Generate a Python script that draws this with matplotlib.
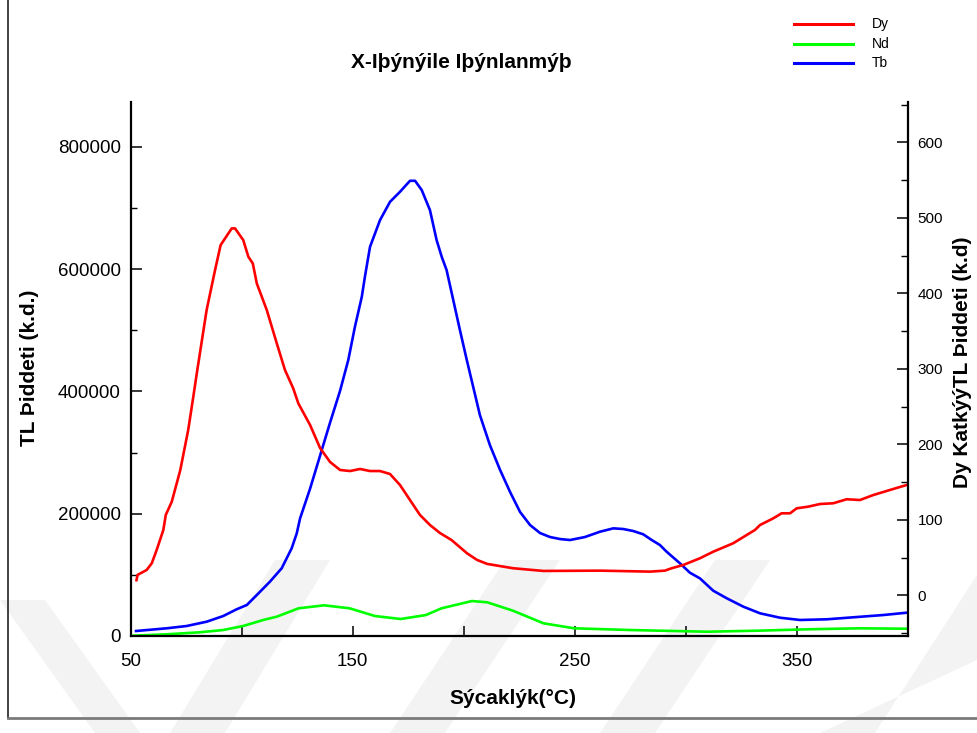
import matplotlib
matplotlib.use("Agg")
import matplotlib.pyplot as plt
from matplotlib.ticker import MultipleLocator, FixedLocator
from matplotlib.lines import Line2D
from matplotlib.patches import Polygon

plt.rcParams['font.family'] = ['Liberation Sans', 'DejaVu Sans']

# -------------------------
# Data
# -------------------------
# Dy : right axis
dy_temp = [52.6, 53.1, 57.2, 59.5, 61.7, 64.7, 65.8, 68.5, 72.3, 75.9, 78.2, 80.0,
           84.2, 88.0, 90.5, 95.5, 97.0, 100.7, 103.0, 105.0, 106.8, 111.3, 115.8,
           119.5, 123.2, 125.5, 130.8, 135.3, 139.8, 144.3, 148.8, 153.3, 157.8,
           162.3, 166.8, 171.3, 175.8, 180.3, 184.8, 189.3, 194.5, 201.5, 206.0,
           210.6, 222.2, 235.9, 261.4, 283.9, 290.6, 293.7, 298.9, 306.4, 312.4,
           321.4, 327.5, 331.2, 333.5, 339.5, 343.2, 347.0, 350.0, 355.2, 360.5,
           366.5, 372.5, 378.5, 384.5, 392.0, 399.5]
dy_int = [20, 27, 33.5, 42.4, 60.0, 86.5, 106.4, 124.0, 165.4, 218.9, 263.0, 298.4,
          377.9, 430.9, 464.0, 486.1, 486.1, 470.6, 448.5, 439.7, 413.2, 377.9, 333.8,
          298.4, 274.2, 254.3, 225.6, 195.1, 176.6, 166.0, 164.6, 167.3, 164.6,
          164.6, 160.7, 146.1, 126.2, 106.4, 93.1, 82.5, 73.2, 55.6, 46.8,
          41.5, 35.8, 32.2, 32.6, 31.3, 32.6, 35.8, 40.1, 49.0, 57.7,
          68.9, 79.9, 86.5, 93.1, 102.0, 108.6, 108.6, 115.2, 117.4, 120.9,
          121.9, 127.2, 126.2, 132.8, 139.5, 146.1]

# Nd : left axis
nd_temp = [51.2, 66.2, 81.2, 91.7, 100.7, 109.7, 115.8, 125.6, 137.1, 148.6, 160.0,
           171.6, 183.0, 190.0, 203.7, 210.6, 222.2, 235.9, 249.7, 274.9, 309.5,
           332.5, 355.4, 378.4, 399.1]
nd_int = [500, 2800, 6100, 9800, 16400, 26200, 31600, 45300, 50200, 45300, 32700,
          27800, 34300, 45300, 57200, 55100, 41400, 20800, 12600, 9800, 7000,
          8700, 11000, 12600, 11900]

# Tb : left axis
tb_temp = [52.4, 66.2, 75.2, 84.2, 91.7, 97.7, 102.3, 106.8, 112.7, 118.0, 122.5,
           124.8, 126.3, 130.8, 135.3, 139.8, 144.3, 148.0, 151.0, 154.1, 155.5,
           157.8, 162.3, 166.8, 171.3, 175.8, 178.1, 181.1, 184.8, 187.8, 190.1,
           192.3, 195.3, 198.3, 201.4, 207.3, 211.8, 216.4, 220.9, 225.4, 229.9,
           234.4, 238.9, 243.4, 247.9, 254.6, 261.4, 267.4, 271.9, 276.4, 280.9,
           284.7, 288.4, 291.4, 297.4, 301.9, 306.4, 312.4, 318.5, 326.0, 333.5,
           342.5, 351.5, 363.5, 375.5, 389.0, 399.5]
tb_int = [8180, 12590, 16350, 23380, 32700, 43660, 50700, 67050, 88800, 110700, 143400,
          167900, 192500, 241000, 295000, 349000, 401000, 451300, 505800, 554900, 587600,
          636600, 680300, 710200, 726600, 744600, 744600, 729400, 696600, 647600, 620300,
          598500, 549500, 500400, 451300, 361400, 312300, 271500, 235500, 202800, 181500,
          168400, 161900, 158600, 157000, 161900, 170600, 176100, 175000, 171700, 166300,
          157000, 148800, 137900, 118900, 103500, 94300, 74100, 61700, 47900, 37100,
          29900, 26200, 27300, 30600, 34300, 38100]

x_ticks = [50, 100, 150, 200, 250, 300, 350]
x_labels = ['50', '', '150', '', '250', '', '350']
left_ticks = [0, 200000, 400000, 600000, 800000]
right_ticks = [0, 100, 200, 300, 400, 500, 600]

W, H = 977, 733
fig = plt.figure(figsize=(W / 100, H / 100), dpi=100)

# faint watermark stripes (behind everything)
stripes = [
    [(0, 600), (45, 600), (140, 733), (95, 733)],
    [(170, 733), (225, 733), (330, 560), (275, 560)],
    [(390, 733), (445, 733), (560, 560), (505, 560)],
    [(600, 733), (655, 733), (770, 560), (715, 560)],
    [(820, 733), (875, 733), (977, 575), (977, 660)],
]
for s in stripes:
    pts = [(px / W, 1 - py / H) for px, py in s]
    fig.patches.append(Polygon(pts, closed=True, transform=fig.transFigure,
                               facecolor='#f3f3f3', edgecolor='none', zorder=-5))

# outer frame (left and bottom)
fig.add_artist(Line2D([7.5 / W, 7.5 / W], [1 - 718 / H, 1.0], transform=fig.transFigure,
                      color='#333333', lw=1.3))
fig.add_artist(Line2D([7.5 / W, 1.0], [1 - 718 / H, 1 - 718 / H], transform=fig.transFigure,
                      color='#7a7a7a', lw=2.0))

ax = fig.add_axes([130.7 / W, 1 - 636 / H, (907.7 - 130.7) / W, (636 - 101.7) / H])
ax.patch.set_alpha(0)
ax2 = ax.twinx()

ax.plot(nd_temp, nd_int, color='#00ff00', lw=1.9)
ax.plot(tb_temp, tb_int, color='#0000ff', lw=1.9)
ax2.plot(dy_temp, dy_int, color='#ff0000', lw=1.9)

ax.set_xlim(50, 400)
ax.set_ylim(0, 874000)
ax2.set_ylim(-54, 654)

for a in (ax, ax2):
    a.spines['top'].set_visible(False)
ax.spines['right'].set_visible(False)
ax2.spines['left'].set_visible(False)
ax2.spines['bottom'].set_visible(False)
for sp in ('left', 'bottom'):
    ax.spines[sp].set_linewidth(1.6)
ax2.spines['right'].set_linewidth(1.6)

ax.set_xticks(x_ticks)
ax.set_xticklabels(x_labels)
ax.set_yticks(left_ticks)
ax.set_yticklabels([str(v) for v in left_ticks])
ax.yaxis.set_minor_locator(FixedLocator([100000, 300000, 500000, 700000]))
ax.tick_params(axis='x', direction='in', length=7, width=1.1, labelsize=13.5, pad=12)
ax.tick_params(axis='y', which='major', direction='in', length=8, width=1.1,
               labelsize=13.5, pad=7)
ax.tick_params(axis='y', which='minor', direction='in', length=4, width=1.0)

ax2.set_yticks(right_ticks)
ax2.yaxis.set_minor_locator(MultipleLocator(50))
ax2.tick_params(axis='y', which='major', direction='in', length=8, width=1.1,
                labelsize=11, pad=7)
ax2.tick_params(axis='y', which='minor', direction='in', length=5, width=1.0)

fig.text(461 / W, 1 - 62 / H, 'X-Iþýnýile Iþýnlanmýþ', ha='center', va='center',
         fontsize=15, fontweight='bold')
fig.text(513 / W, 1 - 699 / H, 'Sýcaklýk(°C)', ha='center', va='center',
         fontsize=15, fontweight='bold')
fig.text(30 / W, 1 - 368 / H, 'TL Þiddeti (k.d.)', ha='center', va='center',
         rotation=90, fontsize=15, fontweight='bold')
fig.text(963 / W, 1 - 362 / H, 'Dy KatkýýTL Þiddeti (k.d)', ha='center', va='center',
         rotation=90, fontsize=15, fontweight='bold')

# legend
leg_names = ['Dy', 'Nd', 'Tb']
leg_colors = ['#ff0000', '#00ff00', '#0000ff']
for i, (name, col) in enumerate(zip(leg_names, leg_colors)):
    yy = 1 - (24 + 19.7 * i) / H
    fig.add_artist(Line2D([794 / W, 853 / W], [yy, yy], transform=fig.transFigure,
                          color=col, lw=2.2))
    fig.text(872 / W, yy, name, ha='left', va='center', fontsize=10)

fig.savefig('out.png', dpi=100)
